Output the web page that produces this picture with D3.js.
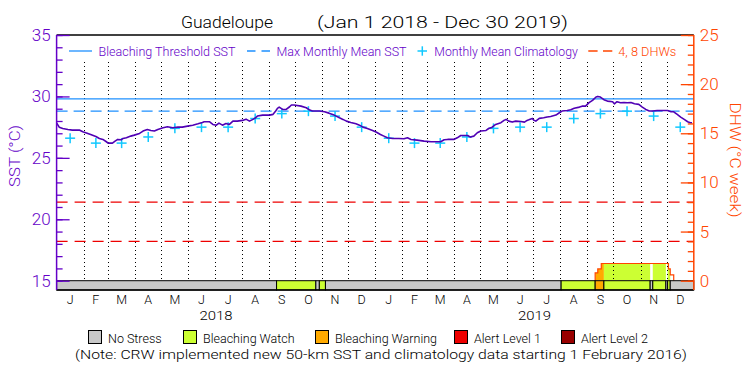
<!DOCTYPE html>
<html lang="en">
<head>
<meta charset="UTF-8">
<title>Guadeloupe</title>
<style>
  body { margin: 0; background: #fff; }
  svg text { font-family: Roboto, "Liberation Sans", Arial, sans-serif; font-weight: 300; }
</style>
</head>
<body>
<div id="root"></div>
<script src="https://cdn.jsdelivr.net/npm/d3@7"></script>
<script>
// ---- data ----
const sstDates = [
  '2018-01-01','2018-01-04','2018-01-08','2018-01-14','2018-01-19','2018-01-27','2018-01-31',
  '2018-02-05','2018-02-09','2018-02-15','2018-02-19','2018-02-23','2018-02-27',
  '2018-03-01','2018-03-06','2018-03-09','2018-03-12','2018-03-16','2018-03-18','2018-03-22','2018-03-27','2018-03-31',
  '2018-04-06','2018-04-10','2018-04-15','2018-04-19','2018-04-23','2018-04-27',
  '2018-05-03','2018-05-08','2018-05-14','2018-05-20','2018-05-25','2018-05-31',
  '2018-06-06','2018-06-12','2018-06-17','2018-06-19','2018-06-25','2018-06-29',
  '2018-07-03','2018-07-06','2018-07-10','2018-07-14','2018-07-18','2018-07-22','2018-07-27',
  '2018-08-02','2018-08-06','2018-08-10','2018-08-14','2018-08-17','2018-08-19','2018-08-25',
  '2018-09-02','2018-09-06','2018-09-09','2018-09-11','2018-09-13','2018-09-17','2018-09-21','2018-09-25','2018-09-27','2018-09-30',
  '2018-10-08','2018-10-14','2018-10-18','2018-10-21','2018-10-29',
  '2018-11-04','2018-11-09','2018-11-15','2018-11-21','2018-11-25','2018-11-29',
  '2018-12-04','2018-12-10','2018-12-14','2018-12-18','2018-12-23','2018-12-29',
  '2019-01-02','2019-01-07','2019-01-11','2019-01-15','2019-01-21','2019-01-28',
  '2019-02-03','2019-02-07','2019-02-11','2019-02-18','2019-02-26',
  '2019-03-06','2019-03-17','2019-03-21','2019-03-25',
  '2019-04-01','2019-04-05','2019-04-09','2019-04-17','2019-04-20','2019-04-24','2019-04-28',
  '2019-05-02','2019-05-08','2019-05-11','2019-05-15','2019-05-19','2019-05-25','2019-05-29','2019-05-31',
  '2019-06-03','2019-06-07','2019-06-11','2019-06-17','2019-06-21','2019-06-24','2019-06-26','2019-06-30',
  '2019-07-02','2019-07-04','2019-07-08','2019-07-13','2019-07-17','2019-07-21','2019-07-27','2019-07-31',
  '2019-08-03','2019-08-09','2019-08-13','2019-08-17','2019-08-23','2019-08-26','2019-08-30',
  '2019-09-03','2019-09-07','2019-09-11','2019-09-13','2019-09-16','2019-09-20','2019-09-24','2019-09-30',
  '2019-10-02','2019-10-05','2019-10-09','2019-10-13','2019-10-17','2019-10-21','2019-10-25','2019-10-30',
  '2019-11-03','2019-11-07','2019-11-11','2019-11-15','2019-11-20','2019-11-26',
  '2019-12-02','2019-12-06','2019-12-09','2019-12-13','2019-12-17','2019-12-21','2019-12-25','2019-12-28','2019-12-30'
]
const sstValues = [
  27.85,27.50,27.39,27.31,27.26,27.26,27.12,
  27.01,26.90,26.74,26.58,26.50,26.31,
  26.20,26.20,26.36,26.50,26.47,26.58,26.63,26.77,26.85,
  26.99,27.18,27.31,27.23,27.18,27.31,
  27.45,27.53,27.45,27.50,27.50,27.58,
  27.66,27.77,27.88,27.94,27.94,27.72,
  27.66,27.83,27.66,27.80,27.72,27.99,27.99,
  28.05,28.15,27.99,28.13,28.26,28.40,28.48,
  28.48,28.54,28.81,29.03,29.13,28.94,28.94,29.16,29.30,29.30,
  29.21,29.08,28.89,28.81,28.81,
  28.75,28.64,28.48,28.26,28.13,27.99,
  27.88,27.77,27.66,27.50,27.39,27.23,
  27.10,26.90,26.77,26.63,26.58,26.58,
  26.55,26.63,26.50,26.44,26.36,
  26.31,26.31,26.47,26.50,
  26.50,26.63,26.82,26.82,26.69,26.77,27.04,
  27.18,27.23,27.39,27.50,27.72,27.86,28.07,28.13,
  27.99,27.91,27.99,27.96,27.91,28.05,28.10,28.21,
  28.05,27.99,28.21,28.26,28.32,28.37,28.48,28.67,
  28.81,28.86,28.92,29.03,29.13,29.21,29.21,
  29.49,29.68,29.95,30.00,29.95,29.73,29.62,29.57,
  29.40,29.57,29.49,29.51,29.49,29.51,29.40,29.35,
  29.13,28.94,28.81,28.81,28.86,28.86,
  28.86,28.75,28.75,28.54,28.32,28.13,27.94,27.86,27.86
]

// monthly mean climatology (Jan..Dec), same for both years
const climYears = [2018, 2019]
const climValues = [26.6, 26.2, 26.2, 26.7, 27.4, 27.5, 27.5, 28.2, 28.6, 28.8, 28.4, 27.5]

const maxMonthlyMean = 28.8
const bleachingThreshold = 29.8
const dhwLevels = [4, 8]

// degree heating weeks (step changes)
const dhwDates = ['2019-09-10','2019-09-13','2019-09-17','2019-12-03','2019-12-05','2019-12-09']
const dhwValues = [0.8, 1.2, 1.75, 1.2, 0.6, 0]

// stress level bar: start date of each run, level 0..4
const stressStarts = ['2018-01-01','2018-09-10','2018-10-25','2018-10-29','2018-11-05','2019-08-02','2019-09-10',
                      '2019-09-20','2019-11-12','2019-11-15','2019-11-30','2019-12-02','2019-12-05']
const stressLevels = [0, 1, 0, 1, 0, 1, 2, 1, 0, 1, 0, 1, 0]
const stressNames = ['No Stress', 'Bleaching Watch', 'Bleaching Warning', 'Alert Level 1', 'Alert Level 2']
const stressColors = ['#c8c8c8', '#ccff33', '#ffaa00', '#ee0000', '#990000']

const monthLabels = ['J','F','M','A','M','J','J','A','S','O','N','D']
const yearLabels = ['2018', '2019']
const sstTickLabels = [15, 20, 25, 30, 35]
const dhwTickLabels = [0, 5, 10, 15, 20, 25]

// ---- layout ----
const W = 750, H = 375
const plotL = 56.6, plotR = 693.8, plotT = 35, plotB = 290, barTop = 280.7

const purple = '#6400c8'
const lineCol = '#5000b4'
const orange = '#ff4500'
const blue = '#1e90ff'
const cyan = '#10c8ff'

const svg = d3.select('#root').append('svg')
  .attr('width', W).attr('height', H)

const parse = d3.utcParse('%Y-%m-%d')

const x = d3.scaleUtc()
  .domain([parse('2018-01-01'), parse('2020-01-01')])
  .range([plotL, plotR])
const ySST = d3.scaleLinear().domain([15, 35]).range([barTop, plotT])
const yDHW = d3.scaleLinear().domain([0, 25]).range([barTop, plotT])

const sst = sstDates.map((d, i) => ({date: parse(d), value: sstValues[i]}))
const dhw = dhwDates.map((d, i) => ({date: parse(d), value: dhwValues[i]}))
const stress = stressStarts.map((d, i) => ({
  start: parse(d),
  end: i < stressStarts.length - 1 ? parse(stressStarts[i + 1]) : x.domain()[1],
  level: stressLevels[i]
}))
const clim = []
climYears.forEach(yr => climValues.forEach((v, m) => {
  clim.push({start: new Date(Date.UTC(yr, m, 1)), end: new Date(Date.UTC(yr, m + 1, 1)), value: v})
}))

// ---- DHW area, coloured by stress level ----
const dhwArea = d3.area()
  .x(d => x(d.date))
  .y0(yDHW(0))
  .y1(d => yDHW(d.value))
  .curve(d3.curveStepAfter)

svg.append('defs').append('clipPath').attr('id', 'dhwClip')
  .append('path').attr('d', dhwArea(dhw))

svg.append('g').attr('clip-path', 'url(#dhwClip)')
  .selectAll('rect').data(stress.filter(s => s.level > 0)).join('rect')
  .attr('x', d => x(d.start))
  .attr('width', d => x(d.end) - x(d.start))
  .attr('y', plotT)
  .attr('height', barTop - plotT)
  .attr('fill', d => stressColors[d.level])

svg.append('path')
  .datum([{date: dhw[0].date, value: 0}, ...dhw])
  .attr('d', d3.line().x(d => x(d.date)).y(d => yDHW(d.value)).curve(d3.curveStepAfter))
  .attr('fill', 'none')
  .attr('stroke', orange)
  .attr('stroke-width', 1.2)

// ---- month grid ----
const months = d3.utcMonth.range(parse('2018-02-01'), parse('2020-01-01'))
svg.append('g').selectAll('line').data(months).join('line')
  .attr('x1', d => Math.round(x(d)) + 0.5)
  .attr('x2', d => Math.round(x(d)) + 0.5)
  .attr('y1', 62).attr('y2', barTop)
  .attr('stroke', '#000')
  .attr('stroke-width', 1)
  .attr('stroke-dasharray', '1,3')

// ---- reference lines ----
svg.append('line')
  .attr('x1', plotL).attr('x2', plotR)
  .attr('y1', ySST(bleachingThreshold)).attr('y2', ySST(bleachingThreshold))
  .attr('stroke', blue).attr('stroke-width', 1.3)

svg.append('line')
  .attr('x1', plotL).attr('x2', plotR)
  .attr('y1', ySST(maxMonthlyMean)).attr('y2', ySST(maxMonthlyMean))
  .attr('stroke', blue).attr('stroke-width', 1.3)
  .attr('stroke-dasharray', '11,6')

svg.append('g').selectAll('line').data(dhwLevels).join('line')
  .attr('x1', plotL).attr('x2', plotR)
  .attr('y1', d => yDHW(d)).attr('y2', d => yDHW(d))
  .attr('stroke', '#ee0000').attr('stroke-width', 1.3)
  .attr('stroke-dasharray', '11,7')

// ---- climatology crosses ----
const cross = svg.append('g').attr('stroke', cyan).attr('stroke-width', 1.5)
clim.forEach(c => {
  const cx = (x(c.start) + x(c.end)) / 2, cy = ySST(c.value)
  cross.append('line').attr('x1', cx - 5).attr('x2', cx + 5).attr('y1', cy).attr('y2', cy)
  cross.append('line').attr('x1', cx).attr('x2', cx).attr('y1', cy - 5).attr('y2', cy + 5)
})

// ---- SST line ----
svg.append('path')
  .datum(sst)
  .attr('d', d3.line().x(d => x(d.date)).y(d => ySST(d.value)))
  .attr('fill', 'none')
  .attr('stroke', lineCol)
  .attr('stroke-width', 1.6)
  .attr('stroke-linejoin', 'round')

// ---- stress bar ----
svg.append('g').selectAll('rect').data(stress).join('rect')
  .attr('x', d => x(d.start))
  .attr('width', d => x(d.end) - x(d.start))
  .attr('y', barTop)
  .attr('height', plotB - barTop)
  .attr('fill', d => stressColors[d.level])
  .attr('stroke', '#000')
  .attr('stroke-width', 1)

// ---- frame ----
svg.append('line').attr('x1', plotL).attr('x2', plotR).attr('y1', plotT).attr('y2', plotT)
  .attr('stroke', '#000').attr('stroke-width', 1.3)
svg.append('line').attr('x1', plotL).attr('x2', plotR).attr('y1', plotB).attr('y2', plotB)
  .attr('stroke', '#000').attr('stroke-width', 1.3)

// ---- left axis (SST) ----
const gl = svg.append('g').attr('transform', `translate(${plotL},0)`)
gl.call(d3.axisLeft(ySST).tickValues(d3.range(15, 36)).tickSize(-6).tickFormat(''))
gl.append('g').call(d3.axisLeft(ySST).tickValues(sstTickLabels).tickSize(-13).tickPadding(6))
gl.selectAll('.domain').remove()
gl.selectAll('line').attr('stroke', purple).attr('stroke-width', 1.3)
gl.selectAll('text').attr('fill', purple).attr('font-size', 17).attr('font-family', null)
gl.append('line').attr('y1', plotT).attr('y2', plotB).attr('stroke', purple).attr('stroke-width', 1.5)

svg.append('text')
  .attr('transform', 'translate(20,156) rotate(-90)')
  .attr('text-anchor', 'middle')
  .attr('fill', purple).attr('font-size', 15)
  .attr('textLength', 62).attr('lengthAdjust', 'spacingAndGlyphs')
  .text('SST (°C)')

// ---- right axis (DHW) ----
const gr = svg.append('g').attr('transform', `translate(${plotR},0)`)
gr.call(d3.axisRight(yDHW).tickValues(d3.range(0, 26)).tickSize(-6).tickFormat(''))
gr.append('g').call(d3.axisRight(yDHW).tickValues(dhwTickLabels).tickSize(-13).tickPadding(6))
gr.selectAll('.domain').remove()
gr.selectAll('line').attr('stroke', orange).attr('stroke-width', 1.3)
gr.selectAll('text').attr('fill', orange).attr('font-size', 17).attr('font-family', null)
gr.append('line').attr('y1', plotT).attr('y2', plotB).attr('stroke', orange).attr('stroke-width', 1.5)

svg.append('text')
  .attr('transform', 'translate(730,160) rotate(90)')
  .attr('text-anchor', 'middle')
  .attr('fill', orange).attr('font-size', 15)
  .attr('textLength', 115).attr('lengthAdjust', 'spacingAndGlyphs')
  .text('DHW (°C week)')

// ---- x labels ----
const monthStarts = d3.utcMonth.range(parse('2018-01-01'), parse('2020-01-01'))
svg.append('g').selectAll('text').data(monthStarts).join('text')
  .attr('x', d => (x(d) + x(d3.utcMonth.offset(d, 1))) / 2)
  .attr('y', 304)
  .attr('text-anchor', 'middle')
  .attr('font-size', 12.5)
  .text(d => monthLabels[d.getUTCMonth()])

svg.append('g').selectAll('text').data(yearLabels).join('text')
  .attr('x', d => (x(parse(d + '-01-01')) + x(parse((+d + 1) + '-01-01'))) / 2)
  .attr('y', 319.5)
  .attr('text-anchor', 'middle')
  .attr('font-size', 13)
  .attr('textLength', 33).attr('lengthAdjust', 'spacingAndGlyphs')
  .text(d => d)

// ---- title ----
svg.append('text').attr('x', 181).attr('y', 28).attr('font-size', 16)
  .attr('textLength', 92).attr('lengthAdjust', 'spacingAndGlyphs')
  .text('Guadeloupe')
svg.append('text').attr('x', 317).attr('y', 28).attr('font-size', 16)
  .attr('textLength', 251).attr('lengthAdjust', 'spacingAndGlyphs')
  .text('(Jan 1 2018 - Dec 30 2019)')

// ---- top legend ----
const ly = 51
const tl = svg.append('g').attr('font-size', 12)
tl.append('line').attr('x1', 69).attr('x2', 92).attr('y1', ly).attr('y2', ly)
  .attr('stroke', blue).attr('stroke-width', 1.3)
tl.append('text').attr('x', 98.5).attr('y', ly + 4.5).attr('fill', purple)
  .attr('textLength', 137).attr('lengthAdjust', 'spacingAndGlyphs')
  .text('Bleaching Threshold SST')
tl.append('line').attr('x1', 247).attr('x2', 270).attr('y1', ly).attr('y2', ly)
  .attr('stroke', blue).attr('stroke-width', 1.3).attr('stroke-dasharray', '8.5,6')
tl.append('text').attr('x', 276.5).attr('y', ly + 4.5).attr('fill', purple)
  .attr('textLength', 130).attr('lengthAdjust', 'spacingAndGlyphs')
  .text('Max Monthly Mean SST')
tl.append('line').attr('x1', 417.5).attr('x2', 427).attr('y1', ly).attr('y2', ly)
  .attr('stroke', cyan).attr('stroke-width', 1.5)
tl.append('line').attr('x1', 422.3).attr('x2', 422.3).attr('y1', ly - 4.7).attr('y2', ly + 4.7)
  .attr('stroke', cyan).attr('stroke-width', 1.5)
tl.append('text').attr('x', 434.3).attr('y', ly + 4.5).attr('fill', purple)
  .attr('textLength', 143.5).attr('lengthAdjust', 'spacingAndGlyphs')
  .text('Monthly Mean Climatology')
tl.append('line').attr('x1', 588.3).attr('x2', 612.3).attr('y1', ly).attr('y2', ly)
  .attr('stroke', orange).attr('stroke-width', 1.3).attr('stroke-dasharray', '9.3,5.4')
tl.append('text').attr('x', 618.3).attr('y', ly + 4.5).attr('fill', orange)
  .attr('textLength', 58).attr('lengthAdjust', 'spacingAndGlyphs')
  .text('4, 8 DHWs')

// ---- bottom legend ----
const legendX = [88, 183, 315, 454, 561]
const bl = svg.append('g').selectAll('g').data(stressNames).join('g')
  .attr('transform', (d, i) => `translate(${legendX[i]},330)`)
bl.append('rect').attr('x', 0.5).attr('y', 0.5).attr('width', 13).attr('height', 13)
  .attr('fill', (d, i) => stressColors[i]).attr('stroke', '#000')
bl.append('text').attr('x', 20).attr('y', 12.5).attr('font-size', 12.5).text(d => d)

svg.append('text').attr('x', 381).attr('y', 359).attr('text-anchor', 'middle')
  .attr('font-size', 13.5)
  .attr('textLength', 612).attr('lengthAdjust', 'spacingAndGlyphs')
  .text('(Note: CRW implemented new 50-km SST and climatology data starting 1 February 2016)')
</script>
</body>
</html>
